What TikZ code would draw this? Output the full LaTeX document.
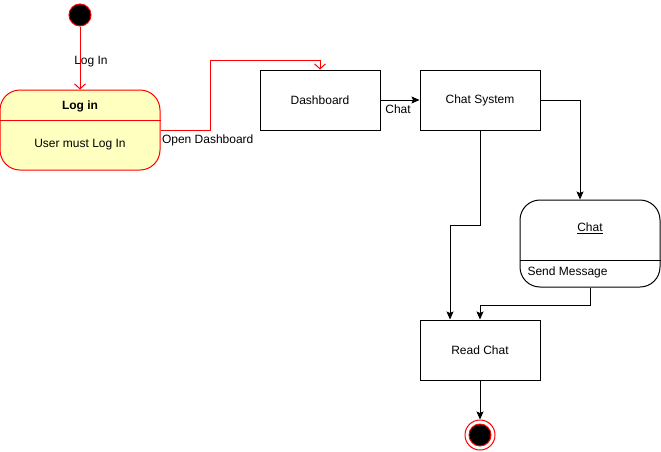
\documentclass[tikz,border=0pt]{standalone}
\usepackage{fontspec}
\setmainfont{Liberation Sans}
\usetikzlibrary{arrows.meta,positioning}
\definecolor{stateyellow}{HTML}{FFFFC0}
\begin{document}
\begin{tikzpicture}[x=1pt,y=-1pt,line width=1pt,
    font=\fontsize{12}{14}\selectfont,
    box/.style={draw,minimum width=120pt,minimum height=60pt,inner sep=0pt},
    statebox/.style={draw,rounded corners=20pt,inner sep=0pt},
    lbl/.style={inner sep=1pt},
    redflow/.style={draw=red,-{Straight Barb[length=5pt,width=11pt]}},
    flow/.style={draw=black,-{Stealth[length=8pt,width=7pt,inset=1.5pt]}}]
      % Fix the page size
      \useasboundingbox (0,0) rectangle (661,451);

      % Start and end points
      \node[circle,draw=red,fill=black,minimum size=22pt,inner sep=0pt] (start) at (80,15) {};
      \node[circle,draw=red,minimum size=30pt,inner sep=0pt] (endring) at (480,435) {};
      \node[circle,draw=red,fill=black,minimum size=22pt,inner sep=0pt] (enddot) at (480,435) {};

      % Log in state with its divider
      \node[statebox,draw=red,fill=stateyellow,minimum width=160pt,minimum height=80pt] (login) at (80,130) {};
      \draw[red] (login.west |- 0,120) -- (login.east |- 0,120);
      \node[font=\fontsize{12}{14}\selectfont\bfseries] (logintitle) at (80,106) {Log in};
      \node (loginbody) at (80,145) {User must Log In};

      % Plain boxes
      \node[box] (dash) at (320,100) {Dashboard};
      \node[box] (chatsys) at (480,100) {Chat System};
      \node[box] (read) at (480,350) {Read Chat};

      % Chat state with its divider
      \node[statebox,minimum width=140pt,minimum height=87pt] (chat) at (590,243.5) {};
      \draw (chat.west |- 0,260) -- (chat.east |- 0,260);
      \node (chattitle) at (590,228) {\underline{Chat}};
      \node[anchor=west,inner sep=0pt] (chatbody) at (527,272) {Send Message};

      % Red transitions
      \draw[redflow] (start) -- node[lbl,xshift=11pt,yshift=-4pt,pos=0.5] {Log In} (login.north);
      \coordinate (bend) at (210,60);
      \draw[redflow] (login.east) node[lbl,anchor=north west,yshift=-3pt] {Open Dashboard} -| (bend) -| (dash.north);

      % Black transitions
      \draw[flow] (dash) -- node[lbl,below,pos=0.45,yshift=-3pt] {Chat} (chatsys);
      \draw[flow] (chatsys.east) -| ([xshift=-10pt]chat.north);
      \coordinate (stepA) at (480,225);
      \draw[flow] (chatsys.south) -- (stepA) -| ([xshift=-30pt]read.north);
      \coordinate (stepB) at (590,305);
      \draw[flow] (chat.south) -- (stepB) -| (read.north);
      \draw[flow] (read.south) -- (endring.north);
\end{tikzpicture}
\end{document}
